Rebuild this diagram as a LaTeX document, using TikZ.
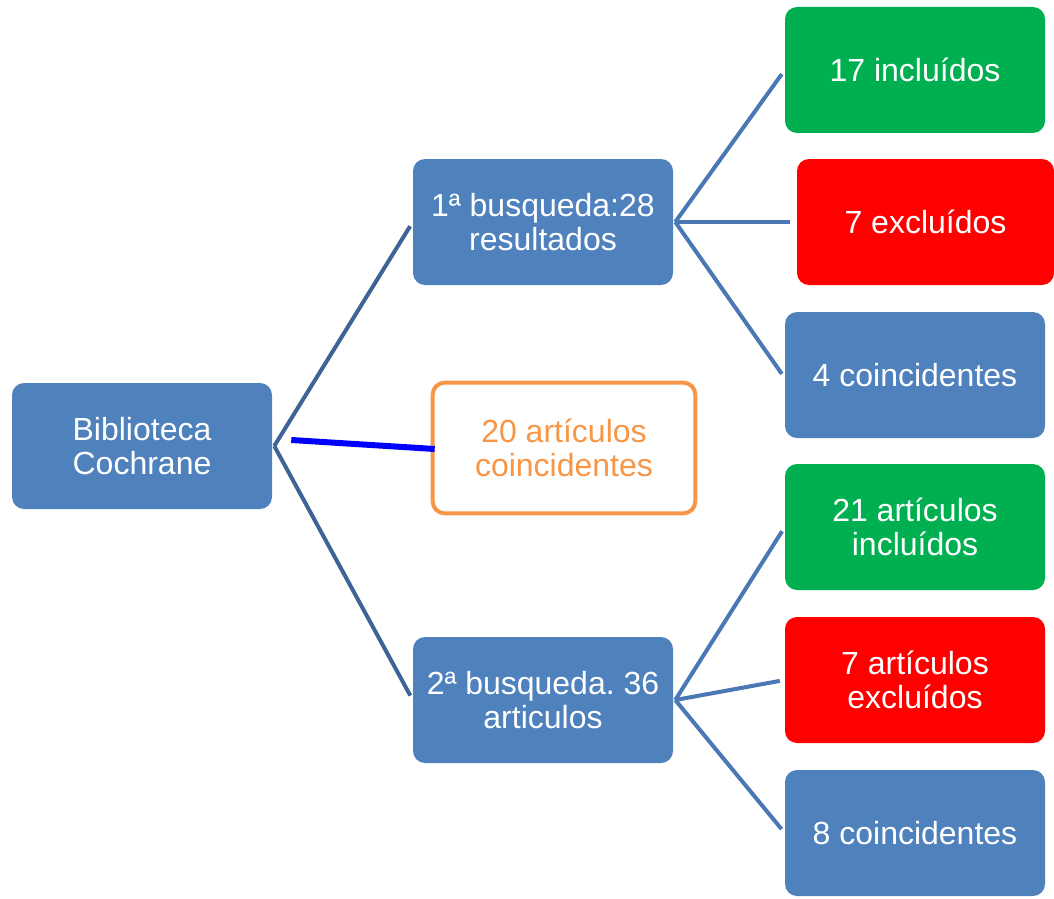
\documentclass[tikz,border=0pt]{standalone}
\usepackage{fontspec}
\setmainfont{Liberation Sans}
\usetikzlibrary{calc}
\definecolor{boxblue}{HTML}{4F81BD}
\definecolor{linkblue}{HTML}{3E6497}
\definecolor{leafblue}{HTML}{4A78B4}
\definecolor{okgreen}{HTML}{00B050}
\definecolor{badred}{HTML}{FF0000}
\definecolor{boxorange}{HTML}{F79646}
\tikzset{
	stepbox/.style={rectangle, rounded corners=9pt, minimum width=195pt, minimum height=94.5pt,
		align=center, text=white, font=\fontsize{24}{25}\selectfont, inner sep=0pt}
}
\tikzset{
	bluebox/.style={stepbox, fill=boxblue},
	greenbox/.style={stepbox, fill=okgreen},
	redbox/.style={stepbox, fill=badred},
	link/.style={draw=linkblue, line width=3pt, shorten >=3.75pt},
	leaflink/.style={draw=leafblue, line width=3pt, shorten >=3.75pt}
}

\begin{document}
\begin{tikzpicture}[x=0.75pt, y=-0.75pt]
      \useasboundingbox (0,0) rectangle (1054,899);
      % root and first level
      \node[bluebox] (cochrane) at (142,446) {Biblioteca\\Cochrane};
      \node[bluebox] (busq1) at (543,222) {1ª busqueda:28\\resultados};
      \node[stepbox, draw=boxorange, line width=3pt, fill=white, text=boxorange,
        minimum width=197pt, minimum height=98pt] (coinc20) at (564,448) {20 artículos\\coincidentes};
      \node[bluebox] (busq2) at (543,700) {2ª busqueda.\ 36\\articulos};
      % leaves
      \node[greenbox] (inc17) at (915,70) {17 incluídos};
      \node[redbox, minimum width=192.75pt] (exc7) at (925.5,222) {7 excluídos};
      \node[bluebox] (coin4) at (915,375) {4 coincidentes};
      \node[greenbox] (inc21) at (915,527) {21 artículos\\incluídos};
      \node[redbox] (exc7b) at (915,680) {7 artículos\\excluídos};
      \node[bluebox] (coin8) at (915,833) {8 coincidentes};
      % connectors
      \draw[link] ([xshift=1.5pt]cochrane.east) -- (busq1.west);
      \draw[link] ([xshift=1.5pt]cochrane.east) -- (busq2.west);
      \draw[blue, line width=4.5pt] ($(cochrane.east)+(19,-6)$) -- ($(coinc20.west)+(4,1)$);
      \draw[leaflink] ([xshift=1.5pt]busq1.east) -- (inc17.west);
      \draw[leaflink, shorten >=5.25pt] ([xshift=1.5pt]busq1.east) -- (exc7.west);
      \draw[leaflink] ([xshift=1.5pt]busq1.east) -- ([yshift=-2.25pt]coin4.west);
      \draw[leaflink] ([xshift=1.5pt]busq2.east) -- (inc21.west);
      \draw[leaflink] ([xshift=1.5pt]busq2.east) -- (exc7b.west);
      \draw[leaflink] ([xshift=1.5pt]busq2.east) -- (coin8.west);
\end{tikzpicture}
\end{document}
